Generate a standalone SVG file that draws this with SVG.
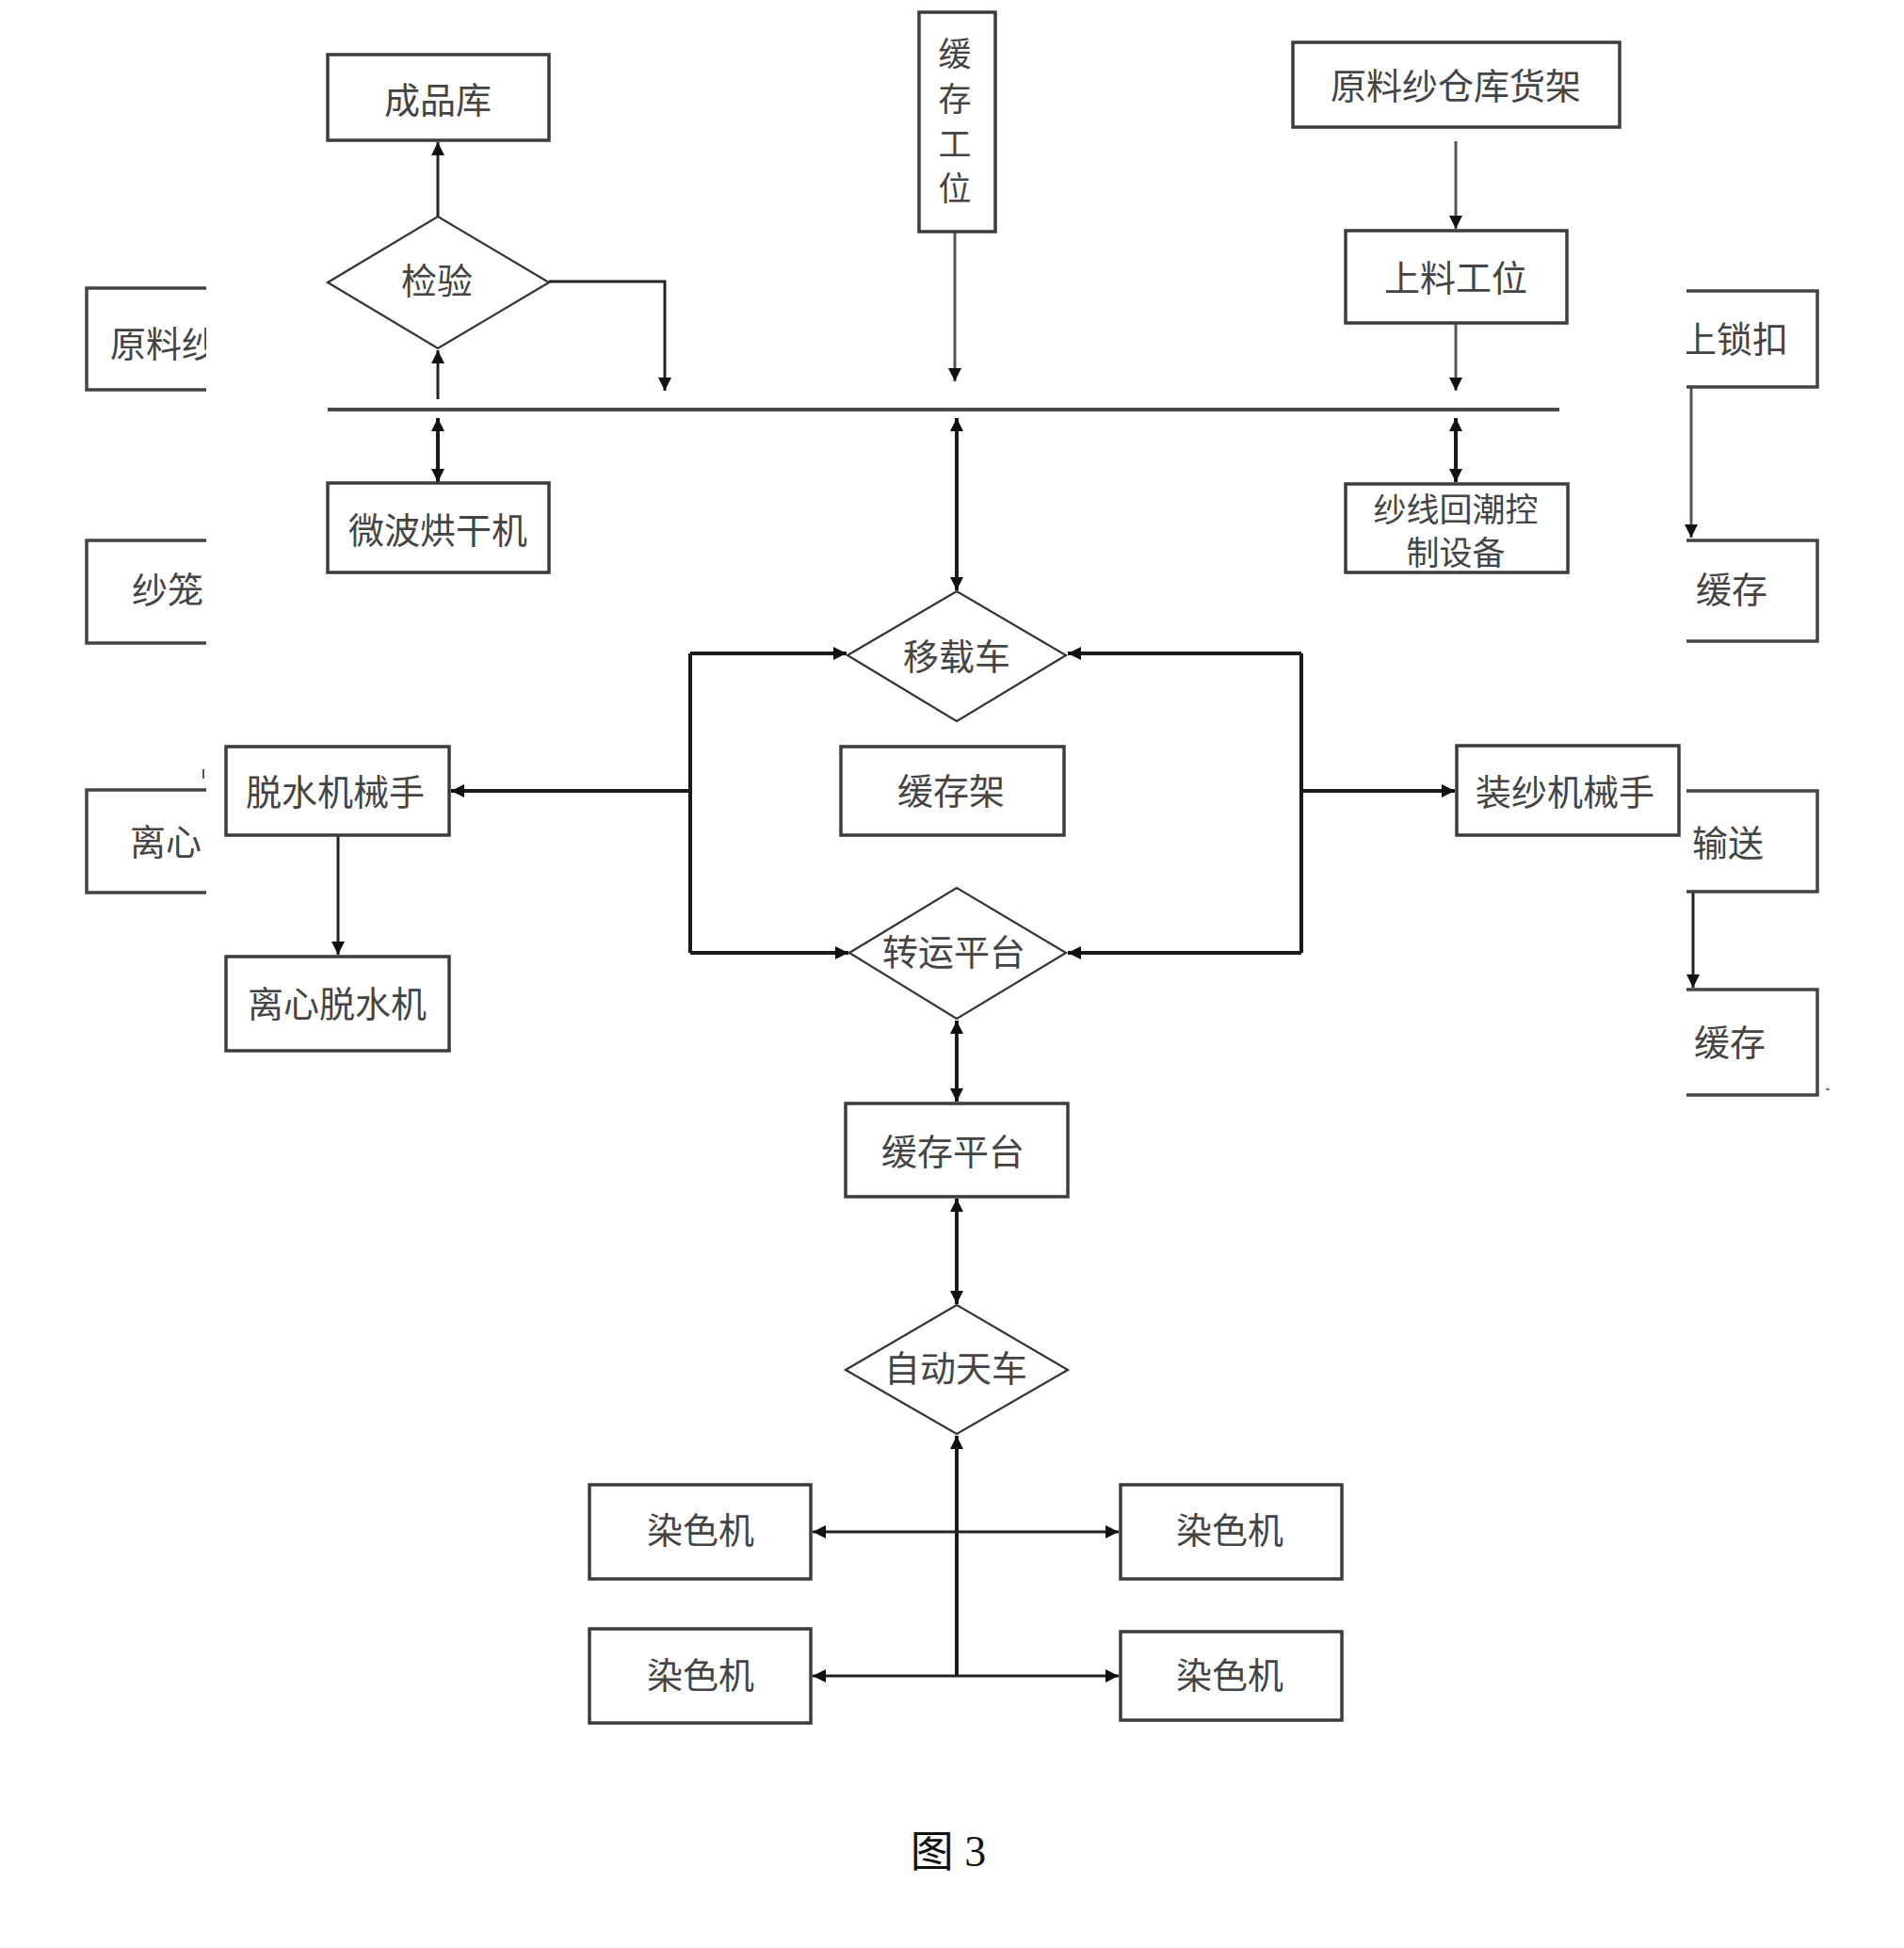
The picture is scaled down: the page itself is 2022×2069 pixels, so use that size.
<svg xmlns="http://www.w3.org/2000/svg" width="2022" height="2069" viewBox="0 0 2022 2069">
<style>
  .box{fill:#fff;stroke:#3c3c3c;stroke-width:3.5}
  .part{fill:none;stroke:#444;stroke-width:3.5}
  .dia{fill:#fff;stroke:#333;stroke-width:2.2}
  .t{font-family:"Noto Sans CJK SC","Noto Sans CJK TC",sans-serif;font-size:38px;fill:#444;text-anchor:middle;dominant-baseline:central}
  .tv{font-family:"Noto Sans CJK SC","Noto Sans CJK TC",sans-serif;font-size:35px;fill:#444;text-anchor:middle;dominant-baseline:central}
  .t2{font-family:"Noto Sans CJK SC","Noto Sans CJK TC",sans-serif;font-size:35px;fill:#444;text-anchor:middle;dominant-baseline:central}
  .ts{font-family:"Noto Sans CJK SC","Noto Sans CJK TC",sans-serif;font-size:38px;fill:#444;text-anchor:start;dominant-baseline:central}
  .c{fill:none;stroke:#222;stroke-width:3}
  .ck{fill:none;stroke:#1a1a1a;stroke-width:4}
  .cg{fill:none;stroke:#555;stroke-width:3}
  .bus{fill:none;stroke:#4a4a4a;stroke-width:4}
  .cap{font-family:"Liberation Serif","Noto Sans CJK SC",serif;font-size:46px;fill:#111;text-anchor:middle;dominant-baseline:central}
</style>
<defs>
  <marker id="ah" viewBox="0 0 10 10" refX="10" refY="5" markerWidth="16" markerHeight="14" markerUnits="userSpaceOnUse" orient="auto-start-reverse">
    <path d="M0,0 L10,5 L0,10 z" fill="#111"/>
  </marker>
  <clipPath id="clipL"><rect x="0" y="0" width="219" height="2069"/></clipPath>
  <clipPath id="clipR"><rect x="1791" y="0" width="231" height="2069"/></clipPath>
</defs>
<rect x="0" y="0" width="2022" height="2069" fill="#fff"/>

<g id="connectors">
  <line class="c" x1="465" y1="230" x2="465" y2="151" marker-end="url(#ah)"/>
  <line class="c" x1="465" y1="424" x2="465" y2="372" marker-end="url(#ah)"/>
  <path class="c" d="M583,299 H706 V415" marker-end="url(#ah)"/>
  <line class="bus" x1="348" y1="435" x2="1656" y2="435"/>
  <line class="ck" x1="465" y1="444" x2="465" y2="512" marker-start="url(#ah)" marker-end="url(#ah)"/>
  <line class="cg" x1="1014" y1="246" x2="1014" y2="405" marker-end="url(#ah)"/>
  <line class="ck" x1="1016" y1="444" x2="1016" y2="627" marker-start="url(#ah)" marker-end="url(#ah)"/>
  <line class="cg" x1="1546" y1="150" x2="1546" y2="243" marker-end="url(#ah)"/>
  <line class="cg" x1="1546" y1="343" x2="1546" y2="415" marker-end="url(#ah)"/>
  <line class="ck" x1="1546" y1="444" x2="1546" y2="512" marker-start="url(#ah)" marker-end="url(#ah)"/>
  <line class="cg" x1="1796" y1="411" x2="1796" y2="571" marker-end="url(#ah)"/>
  <line class="c" x1="1798" y1="947" x2="1798" y2="1049" marker-end="url(#ah)"/>
  <line class="ck" x1="733" y1="694" x2="733" y2="1012"/>
  <line class="ck" x1="733" y1="694" x2="899" y2="694" marker-end="url(#ah)"/>
  <line class="ck" x1="733" y1="1012" x2="901" y2="1012" marker-end="url(#ah)"/>
  <line class="ck" x1="733" y1="840" x2="479" y2="840" marker-end="url(#ah)"/>
  <line class="ck" x1="1382" y1="694" x2="1382" y2="1012"/>
  <line class="ck" x1="1382" y1="694" x2="1134" y2="694" marker-end="url(#ah)"/>
  <line class="ck" x1="1382" y1="1012" x2="1134" y2="1012" marker-end="url(#ah)"/>
  <line class="ck" x1="1382" y1="840" x2="1545" y2="840" marker-end="url(#ah)"/>
  <line class="c" x1="359" y1="887" x2="359" y2="1014" marker-end="url(#ah)"/>
  <line class="ck" x1="1016" y1="1084" x2="1016" y2="1170" marker-start="url(#ah)" marker-end="url(#ah)"/>
  <line class="ck" x1="1016" y1="1273" x2="1016" y2="1385" marker-start="url(#ah)" marker-end="url(#ah)"/>
  <line class="ck" x1="1016" y1="1780" x2="1016" y2="1525" marker-end="url(#ah)"/>
  <line class="c" x1="863" y1="1627" x2="1188" y2="1627" marker-start="url(#ah)" marker-end="url(#ah)"/>
  <line class="c" x1="863" y1="1780" x2="1188" y2="1780" marker-start="url(#ah)" marker-end="url(#ah)"/>
</g>

<g id="n-chengpinku"><rect class="box" x="348" y="58" width="235" height="91"/><text class="t" x="465" y="103">成品库</text></g>
<g id="n-jianyan"><polygon class="dia" points="348,300 465,230 583,300 465,370"/><text class="t" x="464" y="295">检验</text></g>
<g id="n-huancungongwei"><rect class="box" x="976" y="13" width="81" height="233"/>
  <text class="tv" x="1014" y="54">缓</text><text class="tv" x="1014" y="102">存</text><text class="tv" x="1014" y="150">工</text><text class="tv" x="1014" y="197">位</text></g>
<g id="n-yuanliaosha-cangku"><rect class="box" x="1373" y="45" width="347" height="90"/><text class="t" x="1546" y="88">原料纱仓库货架</text></g>
<g id="n-shangliao"><rect class="box" x="1429" y="245" width="235" height="98"/><text class="t" x="1546" y="292">上料工位</text></g>
<g id="n-weibo"><rect class="box" x="348" y="513" width="235" height="95"/><text class="t" x="465" y="560">微波烘干机</text></g>
<g id="n-huichao"><rect class="box" x="1429" y="514" width="236" height="94"/><text class="t2" x="1546" y="538">纱线回潮控</text><text class="t2" x="1546" y="584">制设备</text></g>
<g id="n-yizaiche"><polygon class="dia" points="900,696 1016,628 1132,696 1016,766"/><text class="t" x="1016" y="694">移载车</text></g>
<g id="n-huancunjia"><rect class="box" x="893" y="793" width="237" height="94"/><text class="t" x="1010" y="837">缓存架</text></g>
<g id="n-tuoshui-jixieshou"><rect class="box" x="240" y="793" width="237" height="94"/><text class="t" x="356" y="838">脱水机械手</text></g>
<g id="n-zhuangsha"><rect class="box" x="1547" y="792" width="236" height="95"/><text class="t" x="1662" y="838">装纱机械手</text></g>
<g id="n-lixin-tuoshuiji"><rect class="box" x="240" y="1016" width="237" height="100"/><text class="t" x="358" y="1063">离心脱水机</text></g>
<g id="n-zhuanyun"><polygon class="dia" points="902,1012 1016,943 1132,1012 1016,1082"/><text class="t" x="1013" y="1008">转运平台</text></g>
<g id="n-huancunpingtai"><rect class="box" x="898" y="1172" width="236" height="99"/><text class="t" x="1012" y="1220">缓存平台</text></g>
<g id="n-tianche"><polygon class="dia" points="898,1455 1016,1386 1134,1455 1016,1523"/><text class="t" x="1015" y="1450">自动天车</text></g>
<g id="n-ranse1"><rect class="box" x="626" y="1577" width="235" height="100"/><text class="t" x="744" y="1622">染色机</text></g>
<g id="n-ranse2"><rect class="box" x="1190" y="1577" width="235" height="100"/><text class="t" x="1306" y="1622">染色机</text></g>
<g id="n-ranse3"><rect class="box" x="626" y="1730" width="235" height="100"/><text class="t" x="744" y="1776">染色机</text></g>
<g id="n-ranse4"><rect class="box" x="1190" y="1733" width="235" height="94"/><text class="t" x="1306" y="1776">染色机</text></g>

<g id="n-left-partials" clip-path="url(#clipL)">
  <path class="part" d="M225,306 H92 V414 H225"/><text class="ts" x="117" y="362">原料纱</text>
  <path class="part" d="M225,574 H92 V683 H225"/><text class="ts" x="140" y="623">纱笼</text>
  <path class="part" d="M225,839 H92 V948 H225"/><text class="ts" x="138" y="891">离心</text>
  <line x1="216" y1="817" x2="216" y2="827" stroke="#555" stroke-width="2"/>
</g>
<g id="n-right-partials" clip-path="url(#clipR)">
  <path class="part" d="M1785,309 H1930 V411 H1785"/><text class="ts" x="1785" y="357">上锁扣</text>
  <path class="part" d="M1785,574 H1930 V681 H1785"/><text class="ts" x="1801" y="623">缓存</text>
  <path class="part" d="M1785,840 H1930 V947 H1785"/><text class="ts" x="1797" y="892">输送</text>
  <path class="part" d="M1785,1051 H1930 V1163 H1785"/><text class="ts" x="1799" y="1104">缓存</text>
</g>
<line x1="1939" y1="1157" x2="1943" y2="1157" stroke="#777" stroke-width="2"/>
<text class="cap" x="1007" y="1966">图 3</text>
</svg>
